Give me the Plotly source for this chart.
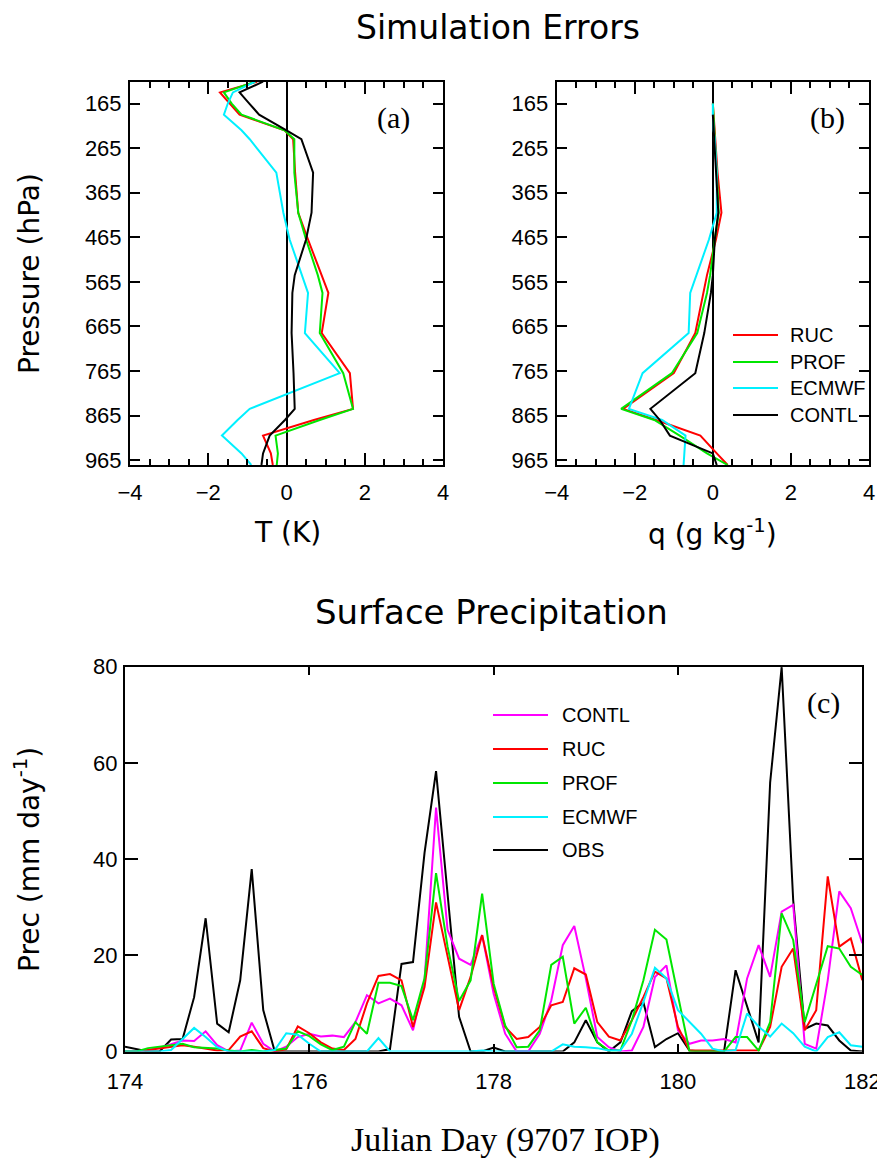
import plotly.graph_objects as go

W, H = 885, 1165
OFF = 8  # the page body margin shifts the figure by this much

# ---- panel (a)/(b): pressure levels (hPa) and errors ----
levels = [116, 140, 165, 190, 225, 245, 320, 410, 470, 550, 590, 680, 770, 850, 875, 910, 950, 976]

ruc_t = [-0.75, -1.7, -1.45, -1.2, -0.05, 0.17, 0.22, 0.3, 0.55, 0.9, 1.07, 0.9, 1.62, 1.7, 0.7, -0.6, -0.4, -0.35]
prof_t = [-0.8, -1.6, -1.4, -1.15, -0.05, 0.2, 0.2, 0.3, 0.5, 0.8, 0.92, 0.85, 1.45, 1.7, 0.85, -0.28, -0.22, -0.25]
ecmwf_t = [-0.8, -1.37, -1.5, -1.6, -1.15, -0.94, -0.26, -0.08, 0.08, 0.38, 0.55, 0.47, 1.36, -0.94, -1.25, -1.65, -1.15, -0.9]
contl_t = [-0.6, -1.2, -0.95, -0.7, 0.0, 0.38, 0.68, 0.64, 0.5, 0.21, 0.15, 0.13, 0.18, 0.21, -0.04, -0.43, -0.6, -0.64]

ruc_q = [None, None, 0.0, 0.02, 0.04, 0.05, 0.12, 0.22, 0.08, -0.15, -0.24, -0.45, -1.0, -2.3, -1.45, -0.32, 0.1, 0.38]
prof_q = [None, None, 0.0, 0.02, 0.03, 0.05, 0.1, 0.15, 0.05, -0.07, -0.15, -0.4, -1.05, -2.35, -1.5, -0.85, -0.15, 0.38]
ecmwf_q = [None, None, 0.0, 0.0, 0.02, 0.05, 0.1, 0.1, -0.1, -0.42, -0.58, -0.62, -1.8, -2.15, -1.3, -0.7, -0.72, -0.75]
contl_q = [None, None, None, 0.0, 0.02, 0.04, 0.08, 0.14, 0.05, 0.0, -0.05, -0.22, -0.45, -1.6, -1.36, -1.1, 0.0, 0.1]

# ---- panel (c): 3-hourly surface precipitation (mm/day), day 174-182 ----
day0, step = 174.0, 0.125
obs_p = [1.0, 0.5, 0, 0, 2.5, 2.6, 11.3, 27.7, 5.8, 4.0, 14.8, 37.9, 8.6, 0, 0, 0, 0,
         0, 0, 0, 0, 0, 0, 0.5, 18.2, 18.6, 41.3, 58.3, 32.2, 7.2, 0, 0, 0.8,
         0, 0, 0, 0, 0, 0, 1.9, 6.5, 1.9, 0, 1.9, 8.4, 10.2, 0.9, 2.6, 3.8,
         0.2, 0, 0, 0, 16.9, 9.3, 1.9, 55.9, 79.9, 31.5, 4.7, 5.8, 5.4, 2.3, 0.2, 0]
contl_p = [0, 0, 0.3, 0.8, 1.5, 2.3, 2.2, 4.2, 1.3, 0, 0.2, 6.0, 1.6, 0, 1.0, 3.0, 3.7,
           3.1, 3.3, 3.0, 6.1, 11.7, 10.0, 11.0, 9.6, 4.4, 14.8, 50.7, 25.3, 19.3, 18.0, 24.2, 12.0,
           3.7, 0, 0, 3.7, 10.6, 22.1, 26.1, 15.2, 3.0, 0.9, 0, 0.2, 5.1, 15.5, 17.9, 4.4,
           1.6, 2.3, 2.3, 2.6, 1.9, 15.2, 22.1, 15.5, 29.1, 30.5, 1.6, 0.6, 14.8, 33.3, 29.8, 22.5]
ruc_p = [0, 0, 0.3, 0.6, 1.0, 1.3, 1.0, 0.6, 0.2, 0.3, 3.1, 4.2, 0.7, 0, 0.5, 5.2, 3.8,
         1.9, 0.6, 0.3, 2.6, 10.0, 15.7, 16.1, 14.8, 5.1, 13.4, 31.0, 19.7, 8.6, 15.5, 24.2, 13.4,
         5.1, 2.6, 3.0, 5.1, 9.6, 10.3, 17.3, 16.0, 6.1, 3.1, 2.3, 6.5, 11.3, 16.6, 15.2, 5.1,
         0.2, 0.2, 0.2, 0.2, 0.2, 0.2, 0.2, 5.1, 17.6, 21.4, 4.4, 8.6, 36.4, 21.8, 23.5, 14.8]
prof_p = [0, 0, 0.7, 1.0, 1.4, 1.6, 0.9, 0.7, 0.6, 0.2, 0, 0.3, 0, 0.3, 0.6, 4.2, 3.2,
          1.5, 0.3, 1.0, 6.1, 3.7, 14.3, 14.3, 13.6, 6.5, 15.2, 37.1, 21.8, 10.5, 14.8, 32.8, 14.1,
          5.4, 0.9, 1.0, 4.4, 18.0, 19.7, 5.8, 9.1, 1.9, 0.2, 0.2, 6.5, 14.8, 25.3, 23.3, 12.0,
          0, 0, 0, 0, 3.0, 3.0, 0.2, 6.1, 28.7, 23.2, 6.1, 13.8, 21.9, 21.4, 17.6, 15.9]
ecmwf_p = [0, 0, 0, 0, 0.3, 2.6, 4.9, 3.0, 0.9, 0, 0, 0, 0, 0.3, 3.8, 3.5, 1.6,
           0, 0, 0, 0, 0, 2.8, 0, 0, 0, 0, 0, 0, 0, 0, 0.2, 0,
           0, 0, 0, 0, 0, 1.5, 1.0, 0.9, 0.7, 0.2, 0.2, 3.7, 10.3, 17.4, 15.2, 8.6,
           6.1, 3.7, 0.6, 0, 0.3, 7.9, 5.2, 3.1, 5.8, 3.8, 1.0, 0, 3.0, 4.0, 1.3, 1.0]
days = [day0 + step * i for i in range(len(obs_p))]

RED, GREEN, CYAN, BLACK, MAGENTA = '#ff0000', '#00e600', '#00f0ff', '#000000', '#ff00ff'
tick_font = dict(family='Liberation Sans', size=22, color='black')
title_family = 'DejaVu Sans'

FW, FH = W - OFF, H - OFF


def px(x):
    return (x - OFF) / FW


def py(y):
    return 1 - (y - OFF) / FH


fig = go.Figure()

profile_series = [('RUC', RED, ruc_t, ruc_q), ('PROF', GREEN, prof_t, prof_q),
                  ('ECMWF', CYAN, ecmwf_t, ecmwf_q), ('CONTL', BLACK, contl_t, contl_q)]
for name, col, t, q in profile_series:
    fig.add_trace(go.Scatter(x=t, y=levels, mode='lines', name=name, showlegend=False,
                             line=dict(color=col, width=2), xaxis='x', yaxis='y'))
    fig.add_trace(go.Scatter(x=q, y=levels, mode='lines', name=name, showlegend=False,
                             line=dict(color=col, width=2), xaxis='x2', yaxis='y2'))

prec_series = [('OBS', BLACK, obs_p), ('CONTL', MAGENTA, contl_p), ('RUC', RED, ruc_p),
               ('PROF', GREEN, prof_p), ('ECMWF', CYAN, ecmwf_p)]
for name, col, vals in prec_series:
    fig.add_trace(go.Scatter(x=days, y=vals, mode='lines', name=name, showlegend=False,
                             line=dict(color=col, width=2), xaxis='x3', yaxis='y3'))

axis_common = dict(showline=True, linecolor='black', linewidth=2, mirror='ticks',
                   ticks='inside', tickwidth=2, tickcolor='black', showgrid=False,
                   tickfont=tick_font, automargin=False)

prof_x = dict(axis_common, range=[-4, 4], tickvals=[-4, -2, 0, 2, 4], ticklen=12,
              zeroline=True, zerolinecolor='black', zerolinewidth=2, ticklabelstandoff=7,
              minor=dict(dtick=0.5, ticks='inside', ticklen=6, tickwidth=2, tickcolor='black'))
prof_y = dict(axis_common, range=[976, 116], tickvals=[165, 265, 365, 465, 565, 665, 765, 865, 965],
              ticklen=10, zeroline=False, ticklabelstandoff=2)

fig.update_layout(
    width=FW, height=FH,
    margin=dict(l=0, r=0, t=0, b=0),
    paper_bgcolor='white', plot_bgcolor='white',
    showlegend=False,
    xaxis=dict(prof_x, domain=[px(130), px(443)], anchor='y'),
    yaxis=dict(prof_y, domain=[py(465), py(81.7)], anchor='x'),
    xaxis2=dict(prof_x, domain=[px(556.7), px(869)], anchor='y2'),
    yaxis2=dict(prof_y, domain=[py(465), py(81.7)], anchor='x2'),
    xaxis3=dict(axis_common, range=[174, 182], tickvals=[174, 176, 178, 180, 182], ticklen=8,
                zeroline=False, ticklabelstandoff=9, domain=[px(125), px(862.3)], anchor='y3'),
    yaxis3=dict(axis_common, range=[0, 80], tickvals=[0, 20, 40, 60, 80], ticklen=13,
                zeroline=False, ticklabelstandoff=1, domain=[py(1051.5), py(666.7)], anchor='x3'),
)

annots = []


def text(x, y, s, size, family=title_family, angle=0):
    annots.append(dict(x=px(x), y=py(y), xref='paper', yref='paper', text=s, showarrow=False,
                       xanchor='center', yanchor='middle', textangle=angle,
                       font=dict(family=family, size=size, color='black')))


text(498, 28, 'Simulation Errors', 33)
text(30, 274, 'Pressure (hPa)', 28, angle=-90)
text(287, 533, 'T (K)', 28)
text(712, 533, 'q (g kg<sup>-1</sup>)', 28)
text(491, 612, 'Surface Precipitation', 34)
text(27, 860, 'Prec (mm day<sup>-1</sup>)', 28, angle=-90)
text(505, 1140, 'Julian Day (9707 IOP)', 34, family='Liberation Serif')
text(393, 118, '(a)', 30, family='Liberation Serif')
text(827, 118, '(b)', 30, family='Liberation Serif')
text(823, 703, '(c)', 30, family='Liberation Serif')

# legends drawn by hand to match the sample-line length of the original
shapes = []


def legend(entries, x0, x1, xt, ys):
    for (name, col), y in zip(entries, ys):
        shapes.append(dict(type='line', xref='paper', yref='paper', x0=px(x0), x1=px(x1),
                           y0=py(y), y1=py(y), line=dict(color=col, width=2)))
        annots.append(dict(x=px(xt), y=py(y), xref='paper', yref='paper', text=name,
                           showarrow=False, xanchor='left', yanchor='middle',
                           font=dict(family='Liberation Sans', size=20, color='black')))


legend([('RUC', RED), ('PROF', GREEN), ('ECMWF', CYAN), ('CONTL', BLACK)],
       733, 778, 788, [335, 362, 388, 415])
legend([('CONTL', MAGENTA), ('RUC', RED), ('PROF', GREEN), ('ECMWF', CYAN), ('OBS', BLACK)],
       493, 548, 560, [715, 749, 783, 817, 850])

fig.update_layout(annotations=annots, shapes=shapes)
fig.write_html('out.html')
